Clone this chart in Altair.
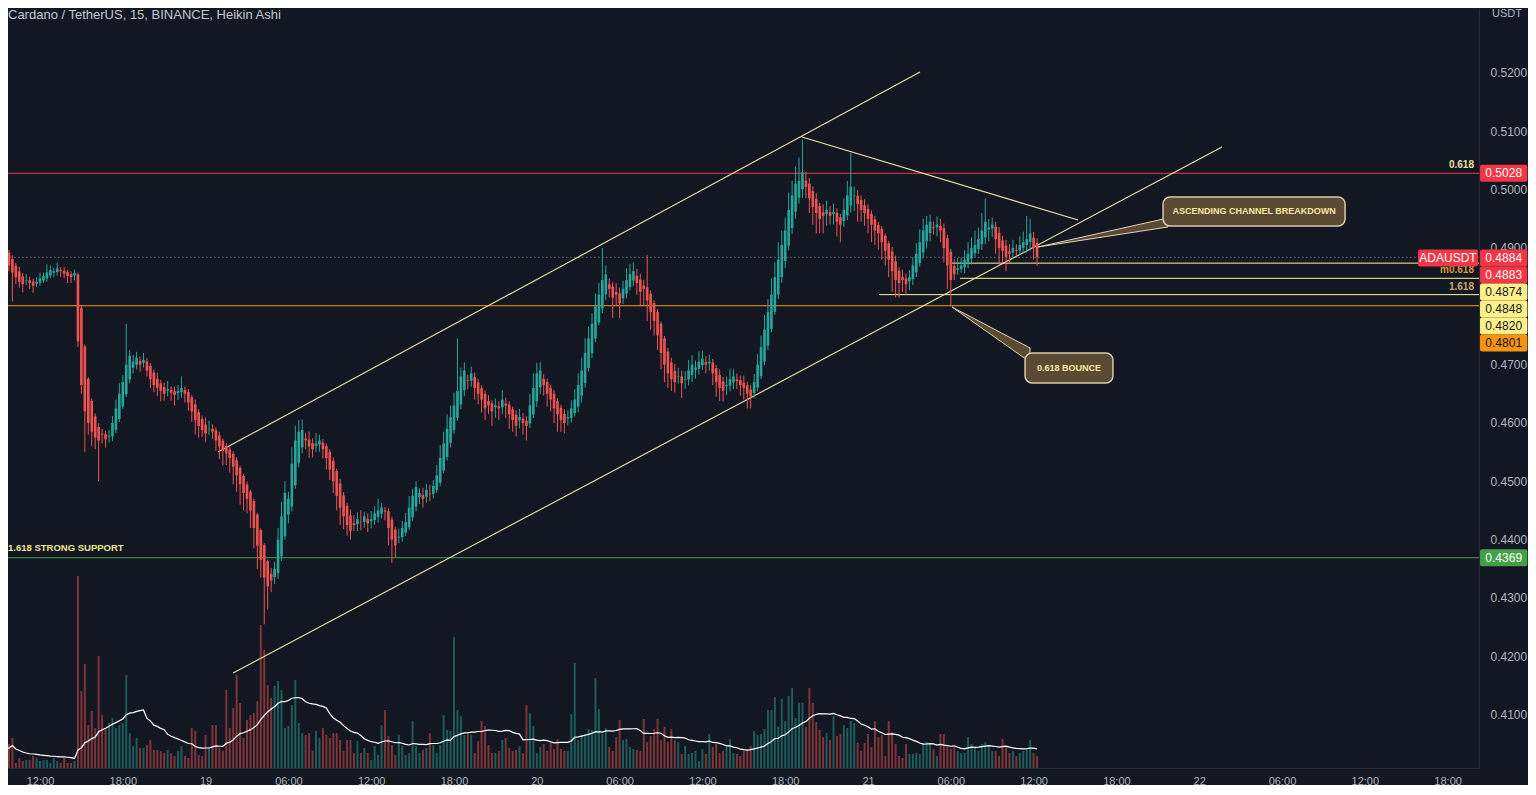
import altair as alt
import numpy as np
import pandas as pd

# ---------------- data ----------------
# Heikin Ashi close of every 15-minute bar, in 1e-4 USDT (first bar Jan 18 09:15)
HA_CLOSE = [
    4895, 4885, 4870, 4858, 4850, 4842, 4838, 4845, 4840, 4835,
    4842, 4848, 4852, 4858, 4862, 4860, 4865, 4860, 4856, 4852,
    4850, 4857, 4740, 4665, 4620, 4600, 4585, 4575, 4570, 4580,
    4572, 4578, 4600, 4625, 4650, 4670, 4700, 4715, 4705, 4712,
    4700, 4708, 4690, 4675, 4665, 4660, 4655, 4650, 4658, 4652,
    4648, 4655, 4660, 4650, 4635, 4620, 4605, 4595, 4588, 4582,
    4590, 4585, 4570, 4560, 4552, 4548, 4540, 4525, 4510, 4495,
    4480, 4470, 4450, 4420, 4390, 4365, 4335, 4320, 4330, 4350,
    4400, 4440, 4480, 4470, 4530, 4570, 4585, 4588, 4570, 4560,
    4555, 4565, 4570, 4555, 4540, 4520, 4500, 4475, 4455, 4440,
    4425, 4415, 4425, 4435, 4430, 4440, 4428, 4435, 4445, 4450,
    4455, 4448, 4420, 4400, 4390, 4405, 4420, 4430, 4455, 4475,
    4490, 4480, 4470, 4485, 4478, 4492, 4510, 4540, 4565, 4590,
    4610, 4630, 4655, 4680, 4690, 4672, 4685, 4660, 4650, 4640,
    4625, 4630, 4620, 4630, 4625, 4640, 4630, 4615, 4605, 4595,
    4610, 4600, 4595, 4630, 4660, 4685, 4690, 4665, 4650, 4640,
    4625, 4615, 4605, 4600, 4610, 4625, 4640, 4665, 4690, 4720,
    4745, 4770, 4800, 4820, 4845, 4855, 4830, 4815, 4820, 4805,
    4830, 4845, 4855, 4860, 4840, 4825, 4830, 4810, 4790, 4775,
    4750, 4720, 4700, 4685, 4675, 4670, 4680, 4668, 4675, 4690,
    4700, 4695, 4705, 4710, 4700, 4705, 4685, 4670, 4660, 4655,
    4665, 4675, 4680, 4672, 4665, 4660, 4650, 4645, 4670, 4700,
    4730, 4760, 4790, 4820, 4850, 4880, 4905, 4930, 4965, 4990,
    5010, 5015, 5030, 5005, 4985, 4970, 4960, 4950, 4955, 4965,
    4955, 4962, 4945, 4940, 4965, 4990, 5005, 4990, 4975, 4965,
    4960, 4950, 4940, 4930, 4925, 4910, 4895, 4880, 4860, 4845,
    4840, 4845, 4838, 4850, 4870, 4890, 4910, 4930, 4940, 4945,
    4935, 4940, 4930, 4900, 4870, 4845, 4855, 4865, 4870, 4880,
    4890, 4900, 4905, 4915, 4930, 4945, 4935, 4940, 4915, 4900,
    4895, 4885, 4890, 4900, 4895, 4905, 4910, 4915, 4925, 4900,
    4884,
]
# wick above / below the body, in 1e-4 USDT
UPPER_WICK = [
    8, 5, 4, 6, 5, 8, 6, 10, 6, 5,
    8, 10, 6, 14, 8, 6, 10, 5, 6, 4,
    5, 6, 3, 4, 3, 3, 4, 5, 6, 8,
    6, 10, 12, 15, 18, 12, 70, 10, 12, 10,
    8, 12, 6, 5, 5, 10, 6, 8, 14, 6,
    8, 10, 20, 6, 5, 4, 8, 5, 6, 12,
    14, 8, 5, 6, 4, 5, 6, 4, 5, 4,
    4, 5, 3, 4, 3, 3, 3, 3, 10, 12,
    20, 25, 20, 12, 28, 25, 20, 18, 10, 14,
    8, 18, 10, 6, 4, 5, 6, 4, 8, 6,
    5, 10, 14, 12, 20, 8, 10, 14, 12, 20,
    8, 6, 5, 5, 4, 14, 12, 16, 20, 12,
    10, 8, 12, 10, 15, 10, 18, 22, 20, 25,
    20, 22, 90, 15, 14, 10, 12, 8, 6, 5,
    6, 10, 5, 12, 8, 16, 10, 6, 5, 8,
    14, 10, 8, 20, 25, 18, 14, 8, 6, 5,
    6, 5, 5, 8, 12, 14, 18, 20, 22, 25,
    20, 18, 22, 20, 55, 15, 10, 8, 15, 10,
    14, 20, 18, 15, 12, 10, 10, 55, 6, 5,
    5, 4, 4, 6, 8, 12, 15, 10, 14, 18,
    16, 12, 18, 14, 10, 12, 6, 5, 10, 8,
    14, 18, 12, 10, 8, 12, 6, 8, 14, 18,
    20, 25, 22, 28, 25, 30, 25, 22, 30, 25,
    30, 40, 55, 15, 10, 8, 10, 6, 14, 16,
    10, 14, 8, 6, 20, 25, 58, 15, 10, 8,
    10, 8, 6, 6, 5, 5, 4, 4, 8, 10,
    6, 12, 8, 12, 14, 18, 22, 20, 15, 12,
    10, 14, 12, 8, 6, 5, 12, 18, 14, 16,
    20, 18, 25, 20, 30, 40, 15, 12, 8, 10,
    8, 10, 12, 14, 10, 15, 18, 40, 25, 10,
    8,
]
LOWER_WICK = [
    5, 8, 10, 50, 12, 10, 14, 8, 10, 12,
    6, 5, 4, 6, 5, 8, 6, 10, 8, 12,
    10, 8, 10, 15, 70, 20, 25, 20, 70, 15,
    14, 10, 8, 6, 5, 4, 5, 6, 10, 8,
    12, 8, 10, 15, 12, 14, 18, 12, 10, 14,
    18, 12, 10, 15, 14, 18, 25, 20, 12, 15,
    10, 12, 18, 22, 25, 20, 25, 30, 28, 35,
    30, 25, 30, 35, 40, 30, 80, 40, 20, 12,
    10, 8, 6, 15, 8, 6, 8, 10, 15, 20,
    14, 10, 12, 16, 20, 18, 20, 25, 30, 22,
    18, 15, 10, 12, 14, 10, 15, 12, 8, 10,
    8, 15, 30, 40, 20, 10, 8, 6, 5, 6,
    8, 12, 15, 10, 12, 8, 5, 6, 5, 6,
    8, 6, 5, 8, 10, 14, 10, 20, 18, 22,
    20, 15, 25, 18, 20, 12, 22, 25, 20, 18,
    14, 20, 25, 8, 6, 10, 12, 18, 22, 20,
    25, 30, 20, 18, 12, 8, 6, 10, 12, 8,
    6, 8, 6, 5, 8, 10, 15, 35, 20, 25,
    10, 8, 6, 10, 20, 25, 30, 35, 30, 25,
    25, 28, 30, 25, 20, 18, 12, 25, 15, 10,
    12, 15, 10, 8, 15, 12, 20, 25, 22, 18,
    15, 10, 12, 14, 18, 20, 25, 20, 8, 6,
    5, 6, 8, 6, 5, 8, 10, 12, 8, 10,
    12, 10, 15, 20, 25, 30, 35, 25, 30, 20,
    15, 18, 25, 30, 10, 8, 12, 25, 30, 20,
    22, 25, 30, 25, 28, 30, 25, 30, 35, 30,
    25, 20, 18, 15, 10, 8, 6, 10, 12, 14,
    12, 15, 20, 25, 40, 45, 10, 8, 6, 10,
    8, 10, 6, 8, 10, 12, 20, 15, 25, 30,
    20, 25, 15, 10, 12, 8, 10, 12, 15, 20,
    15,
]
# volume of every bar (relative units)
VOLUME = [
    12, 24, 24, 30, 5, 10, 7, 8, 8, 12,
    10, 7, 8, 8, 5, 10, 7, 5, 10, 5,
    5, 7, 192, 77, 104, 43, 57, 40, 112, 53,
    40, 45, 50, 40, 43, 45, 93, 35, 22, 30,
    20, 20, 23, 28, 18, 18, 17, 15, 18, 15,
    12, 17, 22, 12, 10, 40, 37, 13, 12, 33,
    20, 43, 43, 20, 17, 78, 40, 60, 93, 65,
    30, 48, 53, 55, 67, 143, 118, 83, 70, 82,
    87, 78, 40, 42, 63, 88, 45, 35, 33, 35,
    17, 37, 30, 40, 33, 30, 35, 35, 28, 17,
    28, 28, 15, 27, 15, 20, 15, 8, 22, 13,
    43, 58, 32, 23, 13, 33, 22, 13, 15, 47,
    22, 15, 18, 20, 35, 23, 15, 23, 53, 38,
    37, 131, 58, 52, 33, 35, 33, 15, 27, 47,
    42, 23, 15, 15, 17, 28, 30, 20, 17, 18,
    22, 15, 63, 55, 42, 15, 21, 24, 17, 26,
    19, 29, 19, 17, 17, 54, 105, 28, 33, 34,
    39, 38, 90, 59, 34, 40, 21, 17, 31, 48,
    28, 29, 21, 19, 18, 17, 49, 26, 32, 39,
    49, 28, 41, 26, 39, 28, 26, 14, 22, 14,
    15, 17, 7, 19, 14, 34, 21, 24, 15, 17,
    21, 29, 15, 14, 12, 17, 17, 22, 37, 33,
    34, 39, 58, 58, 71, 41, 69, 47, 72, 80,
    50, 65, 65, 41, 80, 65, 46, 38, 31, 35,
    28, 52, 32, 34, 43, 40, 47, 45, 25, 17,
    25, 34, 21, 47, 31, 33, 12, 47, 36, 24,
    12, 10, 24, 14, 14, 15, 14, 24, 26, 24,
    19, 12, 34, 34, 21, 19, 21, 17, 15, 15,
    31, 24, 21, 17, 24, 26, 22, 17, 17, 12,
    29, 21, 15, 17, 12, 15, 17, 19, 28, 15,
    12,
]
FIRST_OPEN = 4905          # Heikin Ashi open of the first bar
FIRST_BAR_HOUR = 9.25      # hours after Jan 18 00:00
BAR_HOURS = 0.25
VOLUME_MA_LENGTH = 20

# horizontal levels
LEVEL_PRICE = [0.5028, 0.4874, 0.4848, 0.4820, 0.4801, 0.4369]
LEVEL_FROM = [0.0, 78.09, 78.67, 72.80, 0.0, 0.0]
LEVEL_COLOR = ["#f23645", "#fff59d", "#fff59d", "#fff59d", "#ff9800", "#43a047"]
LAST_PRICE = 0.4884

LEVEL_NOTE = ["0.618", "m0.618", "1.618"]
LEVEL_NOTE_PRICE = [0.5028, 0.4848, 0.4820]
LEVEL_NOTE_COLOR = ["#e6e4a4", "#d39a3c", "#cfa765"]

# trend lines (hours, price)
TREND_T0 = [24.90, 25.99, 67.22]
TREND_P0 = [0.45502, 0.41714, 0.50903]
TREND_T1 = [75.77, 97.65, 87.22]
TREND_P1 = [0.52017, 0.50731, 0.49480]

# callouts
CALLOUT_TEXT = ["ASCENDING CHANNEL BREAKDOWN", "0.618 BOUNCE"]
CALLOUT_T0 = [93.38, 83.38]
CALLOUT_T1 = [106.57, 89.75]
CALLOUT_P_TOP = [0.49874, 0.47200]
CALLOUT_P_BOT = [0.49377, 0.46685]
POINTER_TIP_T = [84.32, 78.09]
POINTER_TIP_P = [0.49017, 0.47988]
POINTER_BASE_T = [93.74, 83.74]
POINTER_BASE_P_TOP = [0.49514, 0.47285]
POINTER_BASE_P_BOT = [0.49360, 0.47045]

# price-scale tags
TAG_TEXT = ["0.5028", "0.4884", "0.4883", "0.4874", "0.4848", "0.4820", "0.4801", "0.4369"]
TAG_PRICE = [0.5028, 0.4884, 0.4883, 0.4874, 0.4848, 0.4820, 0.4801, 0.4369]
TAG_SLOT = [-1, 0, 1, 2, 3, 4, 5, -1]
TAG_FILL = ["#f23645", "#f23645", "#f23645", "#fff08a", "#fff08a", "#fff08a", "#f7930f", "#43a047"]
TAG_INK = ["#ffffff", "#ffffff", "#ffffff", "#131722", "#131722", "#131722", "#131722", "#ffffff"]
SYMBOL = "ADAUSDT"

# 0.4800 is hidden behind the stacked tags in the reference
PRICE_TICKS = [0.41, 0.42, 0.43, 0.44, 0.45, 0.46, 0.47, 0.49, 0.50, 0.51, 0.52]
TIME_TICKS = list(range(12, 115, 6))

TITLE = "Cardano / TetherUS, 15, BINANCE, Heikin Ashi"

# ---------------- layout ----------------
W, H = 1471, 760
X_DOM = [9.6812, 116.275]
P_DOM = [0.40085, 0.53114]
PX_PER_PRICE = H / (P_DOM[1] - P_DOM[0])
BG = "#131722"
UP, DOWN = "#26a69a", "#ef5350"
TXT = "#b2b5be"
FONT = "Liberation Sans"

# ---------------- derived tables ----------------
n = min(len(HA_CLOSE), len(UPPER_WICK), len(LOWER_WICK), len(VOLUME))
close = np.array(HA_CLOSE[:n], dtype=float) / 1e4
opn = np.empty(n)
opn[0] = FIRST_OPEN / 1e4
for i in range(1, n):
    opn[i] = (opn[i - 1] + close[i - 1]) / 2
top = np.maximum(opn, close)
bot = np.minimum(opn, close)
bot = np.where(top - bot < 0.00008, top - 0.00008, bot)
high = top + np.array(UPPER_WICK[:n]) / 1e4
low = np.minimum(opn, close) - np.array(LOWER_WICK[:n]) / 1e4
t = FIRST_BAR_HOUR + BAR_HOURS * np.arange(n)
col = np.where(close >= opn, UP, DOWN)

bars = pd.DataFrame({
    "t": t, "t0": t - 0.095, "t1": t + 0.095,
    "top": top, "bot": bot, "high": high, "low": low, "c": col,
})
vol = pd.DataFrame({
    "t": t, "t0": t - 0.07, "t1": t + 0.07,
    "v": np.array(VOLUME[:n], dtype=float), "c": col,
})
vol["ma"] = vol["v"].rolling(VOLUME_MA_LENGTH, min_periods=1).mean()

levels = pd.DataFrame({"p": LEVEL_PRICE, "f": LEVEL_FROM, "e": [200.0] * len(LEVEL_PRICE), "c": LEVEL_COLOR})
lastline = pd.DataFrame({"p": [LAST_PRICE], "f": [0.0], "e": [200.0]})
notes = pd.DataFrame({"txt": LEVEL_NOTE, "p": LEVEL_NOTE_PRICE, "c": LEVEL_NOTE_COLOR})
trend = pd.DataFrame({"t0": TREND_T0, "p0": TREND_P0, "t1": TREND_T1, "p1": TREND_P1})
boxes = pd.DataFrame({
    "txt": CALLOUT_TEXT, "t0": CALLOUT_T0, "t1": CALLOUT_T1,
    "pt": CALLOUT_P_TOP, "pb": CALLOUT_P_BOT,
})
boxes["tm"] = (boxes["t0"] + boxes["t1"]) / 2
boxes["pm"] = (boxes["pt"] + boxes["pb"]) / 2
ptr_rows = []
for k in range(len(POINTER_TIP_T)):
    ptr_rows.append({"w": k, "t": POINTER_TIP_T[k], "a": POINTER_TIP_P[k], "b": POINTER_TIP_P[k]})
    ptr_rows.append({"w": k, "t": POINTER_BASE_T[k], "a": POINTER_BASE_P_TOP[k], "b": POINTER_BASE_P_BOT[k]})
ptrs = pd.DataFrame(ptr_rows)

TAG_HALF = 8.5 / PX_PER_PRICE
STACK_ANCHOR = 0.48828
TAG_X0, TAG_X1 = 116.35, 119.78
disp = [p if s < 0 else STACK_ANCHOR - s * 2 * TAG_HALF for p, s in zip(TAG_PRICE, TAG_SLOT)]
tags = pd.DataFrame({"txt": TAG_TEXT, "pm": disp, "fill": TAG_FILL, "ink": TAG_INK})
tags["pt"] = tags["pm"] + TAG_HALF
tags["pb"] = tags["pm"] - TAG_HALF
tags["t0"] = TAG_X0
tags["t1"] = TAG_X1
tags["tm"] = (TAG_X0 + TAG_X1) / 2
sym = pd.DataFrame({"txt": [SYMBOL], "t0": [111.86], "t1": [116.2], "pm": [STACK_ANCHOR]})
sym["pt"] = sym["pm"] + TAG_HALF
sym["pb"] = sym["pm"] - TAG_HALF
sym["tm"] = (sym["t0"] + sym["t1"]) / 2

# ---------------- scales / axes ----------------
xs = alt.Scale(domain=X_DOM, nice=False, zero=False)
ys = alt.Scale(domain=P_DOM, nice=False, zero=False)
vs = alt.Scale(domain=[0, H], nice=False, zero=True)
xaxis = alt.Axis(
    values=TIME_TICKS, title=None, grid=False, ticks=False, tickSize=0,
    labelPadding=7, labelColor=TXT, labelFontSize=11, labelFont=FONT,
    labelFlush=False, labelOverlap=False, domainColor="#2a2e39",
    labelExpr="datum.value % 24 == 0 ? toString(18 + datum.value / 24) : "
              "((datum.value % 24) < 10 ? '0' : '') + toString(datum.value % 24) + ':00'",
)
yaxis = alt.Axis(
    orient="right", values=PRICE_TICKS, format=".4f", title=None, grid=False,
    ticks=False, tickSize=0, labelPadding=11, labelColor=TXT, labelFontSize=12,
    labelFont=FONT, labelFlush=False, labelOverlap=False, domainColor="#2a2e39",
)


def X(f):
    return alt.X(f, type="quantitative", scale=xs, axis=xaxis)


def Y(f):
    return alt.Y(f, type="quantitative", scale=ys, axis=yaxis)


# ---------------- volume pane ----------------
vol_bars = alt.Chart(vol).mark_rect(opacity=0.5, clip=True).encode(
    x=X("t0"), x2="t1",
    y=alt.Y("v:Q", scale=vs, axis=None), y2=alt.datum(0),
    fill=alt.Fill("c:N", scale=None),
)
vol_ma = alt.Chart(vol).mark_line(color="#ffffff", strokeWidth=1.2, clip=True).encode(
    x=X("t"), y=alt.Y("ma:Q", scale=vs, axis=None),
)
vol_layer = alt.layer(vol_bars, vol_ma)

# ---------------- price pane ----------------
level_rules = alt.Chart(levels).mark_rule(strokeWidth=1, clip=True).encode(
    x=X("f"), x2="e", y=Y("p"), color=alt.Color("c:N", scale=None),
)
last_rule = alt.Chart(lastline).mark_rule(strokeWidth=1, strokeDash=[1, 3], color="#9da0a8", clip=True).encode(
    x=X("f"), x2="e", y=Y("p"),
)
trend_rules = alt.Chart(trend).mark_rule(strokeWidth=1.1, color="#efe4a4", clip=True).encode(
    x=X("t0"), y=Y("p0"), x2="t1", y2="p1",
)
wicks = alt.Chart(bars).mark_rule(strokeWidth=1, clip=True).encode(
    x=X("t"), y=Y("low"), y2="high", color=alt.Color("c:N", scale=None),
)
bodies = alt.Chart(bars).mark_rect(clip=True).encode(
    x=X("t0"), x2="t1", y=Y("bot"), y2="top", fill=alt.Fill("c:N", scale=None),
)
note_text = alt.Chart(notes).mark_text(
    align="right", baseline="middle", dy=-8, fontSize=10, fontWeight="bold", font=FONT,
).encode(x=alt.value(1466), y=Y("p"), text="txt:N", color=alt.Color("c:N", scale=None))
support_text = alt.Chart(pd.DataFrame({"txt": ["1.618 STRONG SUPPORT"], "p": [LEVEL_PRICE[5]]})).mark_text(
    align="left", baseline="middle", dy=-10, fontSize=9.5, fontWeight="bold", font=FONT, color="#f0e68c",
).encode(x=alt.value(0), y=Y("p"), text="txt:N")

pointers = alt.Chart(ptrs).mark_area(
    fill="#5b4a33", stroke="#e0d3b4", strokeWidth=1, opacity=1, clip=True,
).encode(x=X("t"), y=Y("a"), y2="b", detail="w:N")
callout_boxes = alt.Chart(boxes).mark_rect(
    fill="#5b4a33", stroke="#d9cba8", strokeWidth=1.5, cornerRadius=7, clip=True,
).encode(x=X("t0"), x2="t1", y=Y("pb"), y2="pt")
callout_text = alt.Chart(boxes).mark_text(
    fontSize=9, fontWeight="bold", font=FONT, color="#f7e8a4", baseline="middle",
).encode(x=X("tm"), y=Y("pm"), text="txt:N")

tag_boxes = alt.Chart(tags).mark_rect(cornerRadius=2, clip=False).encode(
    x=X("t0"), x2="t1", y=Y("pb"), y2="pt", fill=alt.Fill("fill:N", scale=None),
)
tag_text = alt.Chart(tags).mark_text(fontSize=12, font=FONT, baseline="middle").encode(
    x=X("tm"), y=Y("pm"), text="txt:N", color=alt.Color("ink:N", scale=None),
)
sym_box = alt.Chart(sym).mark_rect(cornerRadius=2, fill="#f23645", clip=False).encode(
    x=X("t0"), x2="t1", y=Y("pb"), y2="pt",
)
sym_text = alt.Chart(sym).mark_text(fontSize=12, font=FONT, color="#ffffff", baseline="middle").encode(
    x=X("tm"), y=Y("pm"), text="txt:N",
)

title_text = alt.Chart(pd.DataFrame({"txt": [TITLE]})).mark_text(
    align="left", baseline="middle", fontSize=13, font=FONT, color="#c4c7ce",
).encode(x=alt.value(0), y=alt.value(7), text="txt:N")
unit_text = alt.Chart(pd.DataFrame({"txt": ["USDT"]})).mark_text(
    align="left", baseline="middle", fontSize=11, font=FONT, color=TXT,
).encode(x=alt.value(1484), y=alt.value(6), text="txt:N")

price_layer = alt.layer(
    level_rules, last_rule, trend_rules, wicks, bodies,
    note_text, support_text, pointers, callout_boxes, callout_text,
    sym_box, sym_text, tag_boxes, tag_text, title_text, unit_text,
)

chart = alt.layer(vol_layer, price_layer).resolve_scale(y="independent").properties(
    width=W, height=H,
    background=BG,
    padding={"left": 0, "top": 0, "right": 49, "bottom": 17},
    autosize=alt.AutoSizeParams(type="none"),
).configure_view(stroke=None)

chart.save("out.html", embed_options={"renderer": "svg", "actions": False})
